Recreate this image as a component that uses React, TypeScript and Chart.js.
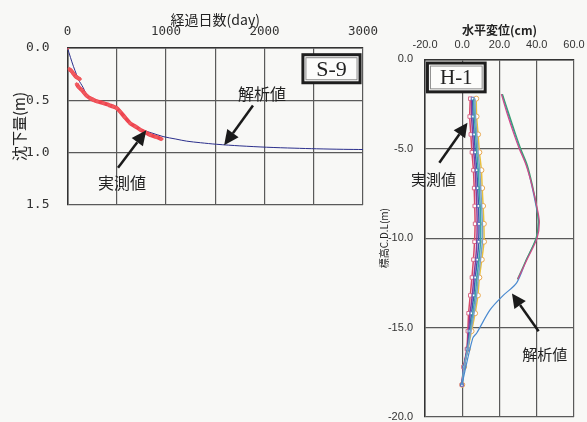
import React, { useEffect, useRef } from 'react';
import { Chart, registerables } from 'chart.js';

Chart.register(...registerables);

// ---------- S-9 settlement chart data ----------
const s9AnalysisDays = [0, 30, 60, 90, 110, 135, 160, 195, 262, 350, 450, 500, 560, 650, 750, 850, 970, 1100, 1210, 1350, 1515, 1750, 2020, 2300, 2530, 2800, 3000];
const s9AnalysisSettle = [0, 0.09, 0.175, 0.25, 0.3, 0.34, 0.38, 0.445, 0.495, 0.53, 0.56, 0.58, 0.64, 0.73, 0.78, 0.81, 0.846, 0.87, 0.89, 0.905, 0.92, 0.935, 0.948, 0.957, 0.963, 0.968, 0.97];

const s9MeasuredDays = [0, 10, 18, 40, 60, 86, 110, 127, 128, 93, 115, 144, 170, 195, 230, 262, 300, 364, 420, 465, 500, 533, 580, 635, 690, 736, 790, 838, 900, 956];
const s9MeasuredSettle = [0, null, 0.2, 0.22, 0.245, 0.275, 0.29, 0.297, null, 0.345, 0.375, 0.4, 0.43, 0.456, 0.48, 0.495, 0.51, 0.526, 0.545, 0.56, 0.575, 0.607, 0.66, 0.718, 0.75, 0.78, 0.805, 0.83, 0.85, 0.87];

const s9XTickLabels = ['0', '', '1000', '', '2000', '', '3000'];
const s9YTickLabels = ['0.0', '0.5', '1.0', '1.5'];

// ---------- H-1 horizontal displacement chart data ----------
const h1Depth = [-2.2, -3.2, -4.2, -5.2, -6.2, -7.2, -8.2, -9.2, -10.2, -11.2, -12.2, -13.2, -14.2, -15.2, -16.2, -17.2, -18.2];
const h1MeasA = [4.3, 4.0, 4.6, 5.2, 6.0, 6.4, 6.7, 6.9, 6.6, 6.0, 5.2, 4.3, 3.4, 3.0, 2.5, 0.7, -0.2];
const h1MeasB = [5.0, 5.0, 5.6, 6.2, 7.0, 7.4, 7.8, 8.0, 7.8, 7.2, 6.2, 5.4, 4.2, 3.4, 2.6, 0.8, -0.2];
const h1MeasC = [5.6, 5.8, 6.4, 7.0, 7.8, 8.3, 8.7, 9.0, 8.8, 8.1, 7.0, 6.2, 5.0, 3.9, 2.8, 0.9, -0.2];
const h1MeasD = [6.2, 6.5, 7.2, 7.8, 8.6, 9.1, 9.6, 9.9, 9.8, 9.0, 7.9, 7.0, 5.7, 4.3, 2.9, 1.0, -0.1];
const h1MeasE = [6.8, 7.1, 7.8, 8.5, 9.4, 9.9, 10.4, 10.8, 10.8, 9.8, 8.6, 7.7, 6.3, 4.6, 3.0, 1.0, 0];
const h1MeasF = [7.5, 7.7, 8.5, 9.2, 10.3, 10.7, 11.2, 11.6, 11.7, 10.5, 9.2, 8.4, 6.9, 5.0, 3.0, 1.0, 0];

const h1AnDepth = [-1.95, -3.0, -4.2, -5.0, -5.9, -7.0, -8.3, -9.1, -10.0, -11.2, -12.5, -13.2, -14.0, -15.3, -15.6, -18.2];
const h1An1 = [21.3, 24.5, 28.3, 31.0, 34.5, 37.2, 39.8, 41.0, 39.8, 34.5, 29.2, 22.0, 15.0, 7.8, 5.6, -0.2];
const h1An2Depth = [-1.95, -3.0, -4.2, -5.0, -5.9, -7.0, -8.3, -9.1, -10.0, -11.2, -12.3];
const h1An2 = [21.0, 24.0, 27.8, 30.6, 34.2, 37.3, 40.2, 41.4, 40.2, 34.8, 29.8];
const h1An3 = [21.6, 24.9, 28.7, 31.4, 34.9, 37.6, 40.0, 40.8, 39.6, 34.4, 29.6];

const h1XTicks = [-20, 0, 20, 40, 60];
const h1YTicks = [0, -5, -10, -15, -20];

const CJK = '"Noto Sans CJK JP", "Noto Sans", sans-serif';

const annotPlugin = {
  id: 'annot',
  afterDatasetsDraw(chart: any, _args: any, opts: any) {
    const { ctx } = chart;
    const xs = chart.scales.x;
    const ys = chart.scales.y;
    const px = (v: number) => xs.getPixelForValue(v);
    const py = (v: number) => ys.getPixelForValue(v);
    ctx.save();
    for (const a of opts.arrows || []) {
      const x1 = px(a.from[0]), y1 = py(a.from[1]);
      const x2 = px(a.to[0]), y2 = py(a.to[1]);
      const ang = Math.atan2(y2 - y1, x2 - x1);
      const hl = a.head || 15, hw = a.headW || 7;
      const bx = x2 - Math.cos(ang) * hl, by = y2 - Math.sin(ang) * hl;
      ctx.strokeStyle = '#1a1a1a';
      ctx.fillStyle = '#1a1a1a';
      ctx.lineWidth = 2.5;
      ctx.beginPath();
      ctx.moveTo(x1, y1);
      ctx.lineTo(bx, by);
      ctx.stroke();
      ctx.beginPath();
      ctx.moveTo(x2, y2);
      ctx.lineTo(bx + Math.sin(ang) * hw, by - Math.cos(ang) * hw);
      ctx.lineTo(bx - Math.sin(ang) * hw, by + Math.cos(ang) * hw);
      ctx.closePath();
      ctx.fill();
    }
    for (const t of opts.texts || []) {
      ctx.font = t.font;
      ctx.fillStyle = '#222';
      ctx.textAlign = 'center';
      ctx.textBaseline = 'middle';
      ctx.fillText(t.text, px(t.at[0]), py(t.at[1]));
    }
    if (opts.box) {
      const b = opts.box;
      const x1 = px(b.x[0]), x2 = px(b.x[1]);
      const y1 = py(b.y[0]), y2 = py(b.y[1]);
      const l = Math.min(x1, x2), r = Math.max(x1, x2);
      const t = Math.min(y1, y2), btm = Math.max(y1, y2);
      ctx.fillStyle = '#fcfcfb';
      ctx.fillRect(l, t, r - l, btm - t);
      ctx.strokeStyle = '#1e1e1e';
      ctx.lineWidth = 3;
      ctx.strokeRect(l, t, r - l, btm - t);
      ctx.strokeStyle = '#8a8a8a';
      ctx.lineWidth = 1;
      ctx.strokeRect(l + 3, t + 3, r - l - 6, btm - t - 6);
      ctx.fillStyle = '#222';
      ctx.font = b.font;
      ctx.textAlign = 'center';
      ctx.textBaseline = 'middle';
      ctx.fillText(b.label, (l + r) / 2, (t + btm) / 2 + 1);
    }
    ctx.restore();
  },
};

function useChart(ref: React.RefObject<HTMLCanvasElement | null>, makeConfig: () => any) {
  useEffect(() => {
    if (!ref.current) return;
    const chart = new Chart(ref.current, makeConfig());
    return () => chart.destroy();
  }, []);
}

const gridColor = '#5a5a5a';

const fixX = (h: number) => (s: any) => {
  s.height = h;
  s.paddingLeft = 0;
  s.paddingRight = 0;
};
const fixY = (w: number) => (s: any) => {
  s.width = w;
  s.paddingTop = 0;
  s.paddingBottom = 0;
};

function s9Config() {
  return {
    type: 'scatter',
    data: {
      datasets: [
        {
          label: '解析値',
          data: s9AnalysisDays.map((d, i) => ({ x: d, y: s9AnalysisSettle[i] })),
          showLine: true,
          borderColor: '#2b2f8c',
          borderWidth: 1,
          pointRadius: 0,
          tension: 0.3,
          order: 2,
        },
        {
          label: '実測値',
          data: s9MeasuredDays.map((d, i) => ({ x: d, y: s9MeasuredSettle[i] })),
          showLine: true,
          spanGaps: false,
          borderColor: '#ee4450',
          backgroundColor: '#f05a5e',
          borderWidth: 4,
          pointRadius: 2.2,
          pointBorderWidth: 0,
          pointStyle: 'rectRot',
          tension: 0.2,
          order: 1,
        },
      ],
    },
    plugins: [annotPlugin],
    options: {
      animation: false,
      responsive: false,
      layout: { padding: { left: 0, right: 17, top: 0, bottom: 7 } },
      plugins: {
        legend: { display: false },
        tooltip: { enabled: false },
        annot: {
          arrows: [
            { from: [1883, 0.55], to: [1590, 0.93] },
            { from: [513, 1.145], to: [800, 0.785] },
          ],
          texts: [
            { text: '解析値', at: [1975, 0.44], font: `16px ${CJK}` },
            { text: '実測値', at: [553, 1.29], font: `16px ${CJK}` },
          ],
          box: { x: [2390, 2970], y: [0.064, 0.332], label: 'S-9', font: '22px "Liberation Serif", serif' },
        },
      },
      scales: {
        x: {
          type: 'linear',
          position: 'top',
          min: 0,
          max: 3000,
          afterFit: fixX(48),
          ticks: {
            stepSize: 500,
            padding: 9,
            color: '#333',
            font: { family: '"DejaVu Sans Mono", monospace', size: 12.5 },
            callback: (v: any) => s9XTickLabels[Math.round(Number(v) / 500)],
            maxRotation: 0,
            autoSkip: false,
          },
          grid: { color: gridColor, lineWidth: 1.2, drawTicks: false },
          border: { color: '#333', width: 1.5 },
          title: {
            display: true,
            text: '経過日数(day)',
            color: '#222',
            font: { family: CJK, size: 14 },
            padding: { top: 11, bottom: 0 },
          },
        },
        y: {
          type: 'linear',
          reverse: true,
          min: 0,
          max: 1.5,
          afterFit: fixY(67.5),
          ticks: {
            stepSize: 0.5,
            padding: 18,
            color: '#333',
            font: { family: '"DejaVu Sans Mono", monospace', size: 13 },
            callback: (v: any) => s9YTickLabels[Math.round(Number(v) / 0.5)],
          },
          grid: { color: gridColor, lineWidth: 1.2, drawTicks: false },
          border: { color: '#333', width: 1.5 },
          title: {
            display: true,
            text: '沈下量(m)',
            color: '#222',
            font: { family: CJK, size: 15 },
            padding: { top: 10, bottom: 0 },
          },
        },
      },
    },
  };
}

function h1Config() {
  const meas = (vals: number[], color: string, extra: any = {}) => ({
    data: vals.map((v, i) => ({ x: v, y: h1Depth[i] })),
    showLine: true,
    borderColor: color,
    borderWidth: 1.5,
    pointRadius: 0,
    tension: 0.2,
    ...extra,
  });
  const an = (vals: number[], depth: number[], color: string) => ({
    data: vals.map((v, i) => ({ x: v, y: depth[i] })),
    showLine: true,
    borderColor: color,
    borderWidth: 1.2,
    pointRadius: 0,
    tension: 0.3,
  });
  return {
    type: 'scatter',
    data: {
      datasets: [
        an(h1An2, h1An2Depth, '#d04a88'),
        an(h1An3, h1An2Depth, '#3aa070'),
        an(h1An1, h1AnDepth, '#4a8ad0'),
        meas(h1MeasE, '#7aa0c8'),
        meas(h1MeasD, '#3aa8a8'),
        meas(h1MeasC, '#3a5ab0', { pointRadius: 2, pointStyle: 'rect', pointBackgroundColor: '#ffffff', pointBorderColor: '#5a70b8', pointBorderWidth: 1 }),
        meas(h1MeasB, '#8a3a9a'),
        meas(h1MeasA, '#d84a6a', { pointRadius: 2.5, pointStyle: 'rect', pointBackgroundColor: '#ffffff', pointBorderColor: '#d86a88', pointBorderWidth: 1 }),
        meas(h1MeasF, '#e8c040', { pointRadius: 2.5, pointStyle: 'circle', pointBackgroundColor: '#ffffff', pointBorderColor: '#e8a850', pointBorderWidth: 1 }),
      ],
    },
    plugins: [annotPlugin],
    options: {
      animation: false,
      responsive: false,
      layout: { padding: { left: 0, right: 13, top: 0, bottom: 4 } },
      plugins: {
        legend: { display: false },
        tooltip: { enabled: false },
        annot: {
          arrows: [
            { from: [-12.3, -5.78], to: [2.8, -3.55], head: 14, headW: 7 },
            { from: [41, -15.2], to: [26.7, -13.1], head: 14, headW: 7 },
          ],
          texts: [
            { text: '実測値', at: [-15.5, -6.72], font: `15px ${CJK}` },
            { text: '解析値', at: [44.3, -16.47], font: `15px ${CJK}` },
          ],
          box: { x: [-18.7, 12.3], y: [-0.21, -1.82], label: 'H-1', font: '21px "Liberation Serif", serif' },
        },
      },
      scales: {
        x: {
          type: 'linear',
          position: 'top',
          min: -20,
          max: 60,
          afterFit: fixX(59.3),
          afterBuildTicks: (s: any) => { s.ticks = h1XTicks.map((v) => ({ value: v })); },
          ticks: {
            padding: 8,
            color: '#333',
            font: { family: '"Liberation Sans", Arial, sans-serif', size: 11 },
            callback: (v: any) => Number(v).toFixed(1),
            maxRotation: 0,
          },
          grid: { color: gridColor, lineWidth: 1.2, drawTicks: false },
          border: { color: '#333', width: 1.5 },
          title: {
            display: true,
            text: '水平変位(cm)',
            color: '#222',
            font: { family: CJK, size: 12, weight: 'bold' },
            padding: { top: 23, bottom: 0 },
          },
        },
        y: {
          type: 'linear',
          min: -20,
          max: 0,
          afterFit: fixY(50),
          afterBuildTicks: (s: any) => { s.ticks = h1YTicks.map((v) => ({ value: v })); },
          ticks: {
            padding: 12,
            color: '#333',
            font: { family: '"Liberation Sans", Arial, sans-serif', size: 11 },
            callback: (v: any) => Number(v).toFixed(1),
          },
          grid: { color: gridColor, lineWidth: 1.2, drawTicks: false },
          border: { color: '#333', width: 1.5 },
          title: {
            display: true,
            text: '標高C.D.L(m)',
            color: '#222',
            font: { family: CJK, size: 10 },
            padding: { top: 3, bottom: 0 },
          },
        },
      },
    },
  };
}

export default function App() {
  const leftRef = useRef<HTMLCanvasElement | null>(null);
  const rightRef = useRef<HTMLCanvasElement | null>(null);
  useChart(leftRef, s9Config);
  useChart(rightRef, h1Config);
  return (
    <div style={{ position: 'absolute', left: 0, top: 0, width: 587, height: 422, background: '#f8f8f6', overflow: 'hidden' }}>
      <canvas ref={leftRef} width={380} height={212} style={{ position: 'absolute', left: 0, top: 0, width: 380, height: 212 }} />
      <canvas ref={rightRef} width={212} height={422} style={{ position: 'absolute', left: 375, top: 0, width: 212, height: 422 }} />
    </div>
  );
}
